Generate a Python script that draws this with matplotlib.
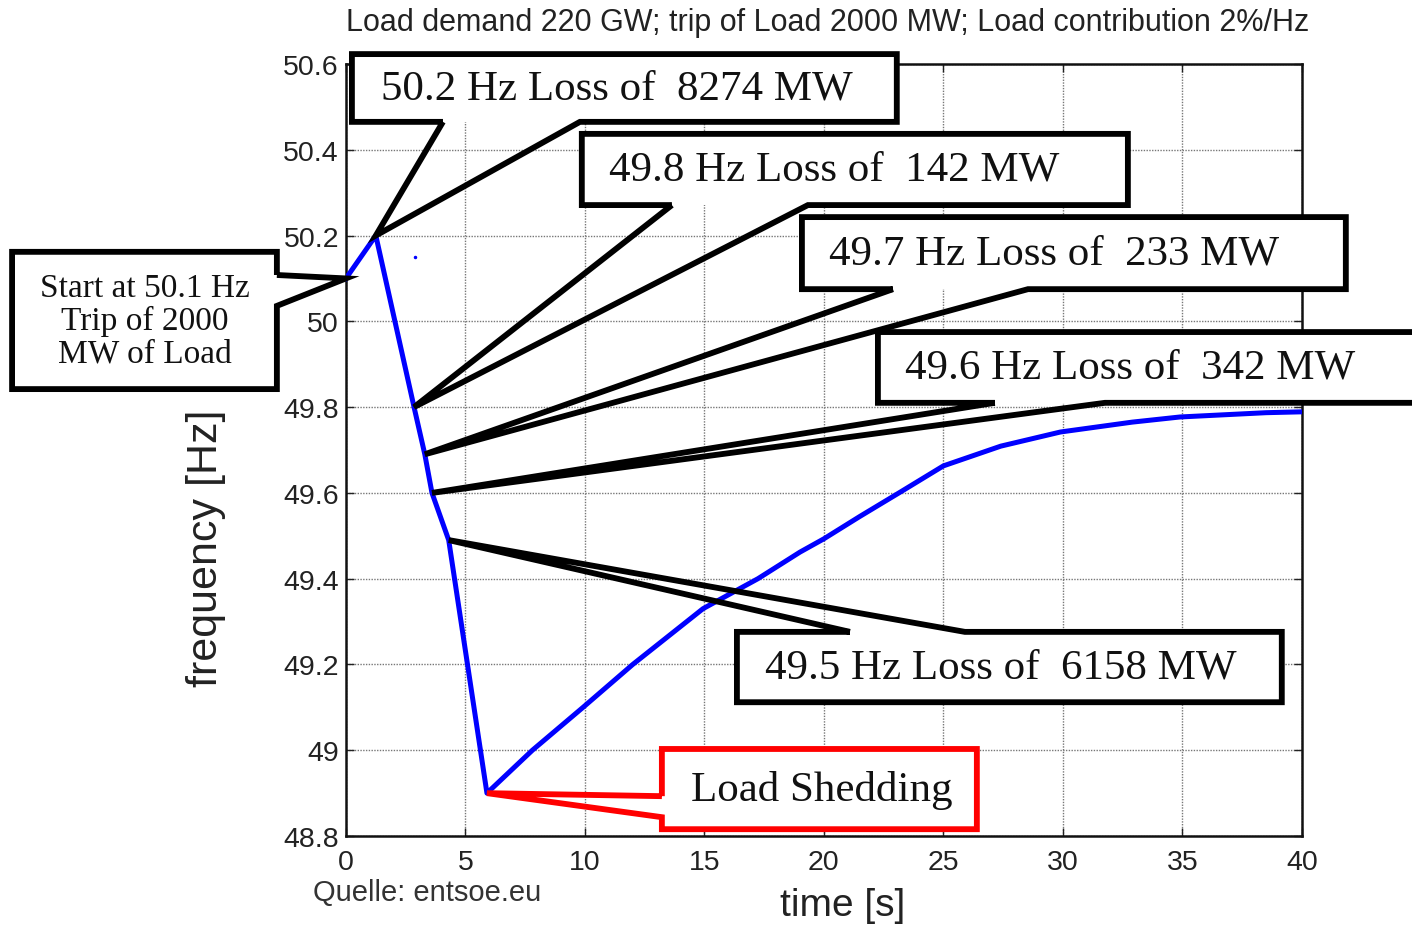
import numpy as np
import matplotlib
matplotlib.use("Agg")
import matplotlib.pyplot as plt
from matplotlib.patches import Rectangle

# frequency response after trip of load
time_s = [0, 1.25, 2.85, 3.3, 3.6, 4.3, 5.9, 7.8, 9.92, 12.0, 14.94, 17.24,
          19.0, 20.0, 21.5, 23.2, 25.0, 27.4, 29.9, 32.9, 34.9, 38.5, 40]
freq_hz = [50.1, 50.2, 49.8, 49.69, 49.6, 49.49, 48.9, 49.0, 49.1, 49.2,
           49.33, 49.4, 49.462, 49.493, 49.545, 49.602, 49.663, 49.709, 49.742,
           49.765, 49.777, 49.787, 49.789]

x_ticks = [0, 5, 10, 15, 20, 25, 30, 35, 40]
y_ticks = [48.8, 49.0, 49.2, 49.4, 49.6, 49.8, 50.0, 50.2, 50.4, 50.6]
y_tick_labels = ["48.8", "49", "49.2", "49.4", "49.6", "49.8", "50", "50.2", "50.4", "50.6"]

callout_texts = ["Start at 50.1 Hz\nTrip of 2000\nMW of Load",
                 "50.2 Hz Loss of  8274 MW",
                 "49.8 Hz Loss of  142 MW",
                 "49.7 Hz Loss of  233 MW",
                 "49.6 Hz Loss of  342 MW",
                 "49.5 Hz Loss of  6158 MW",
                 "Load Shedding"]
# index of the curve point each callout points at
callout_points = [0, 1, 2, 3, 4, 5, 6]

title = "Load demand 220 GW; trip of Load 2000 MW; Load contribution 2%/Hz"
source = "Quelle: entsoe.eu"

fig = plt.figure(figsize=(14.12, 9.28), dpi=100)
ax = fig.add_axes([0.245, 0.098, 0.677, 0.832])

ax.plot(time_s, freq_hz, color="#0000ff", lw=3.6, zorder=6, solid_joinstyle="round")
ax.plot([2.9], [50.15], "o", color="#0000ff", ms=1.5, zorder=6)

ax.set_xlim(0, 40)
ax.set_ylim(48.8, 50.6)
ax.set_xticks(x_ticks)
ax.set_yticks(y_ticks)
ax.set_yticklabels(y_tick_labels)
ax.tick_params(direction="in", top=True, right=True, length=6, width=1,
               labelsize=20.5, colors="#222222")
ax.tick_params(axis="x", pad=9)
ax.tick_params(axis="y", pad=5)
for lab in ax.get_xticklabels() + ax.get_yticklabels():
    lab.set_fontfamily("Liberation Sans")
ax.grid(True, color="#777777", ls=(0, (1, 1)), lw=1)
for s in ax.spines.values():
    s.set_linewidth(1.8)
    s.set_color("#111111")

fig.text(0.597, 0.024, "time [s]", ha="center", va="center", fontsize=28,
         family="Liberation Sans", color="#222222")
fig.text(0.146, 0.409, "frequency [Hz]", ha="center", va="center", fontsize=31,
         family="Liberation Sans", color="#222222", rotation=90)
fig.text(0.586, 0.975, title, ha="center", va="center", fontsize=22,
         family="Liberation Sans", color="#222222")
fig.text(0.222, 0.038, source, ha="left", va="center", fontsize=21,
         family="Liberation Sans", color="#333333")


def callout(box, side, base, tip, color="black", lw=4.2):
    x0, y0, x1, y1 = box  # left, bottom, right, top in data units
    a, b = base
    tx, ty = tip
    if side == "bottom":
        path = [(a, y0), (x0, y0), (x0, y1), (x1, y1), (x1, y0), (b, y0), (tx, ty), (a, y0)]
    elif side == "top":
        path = [(a, y1), (x0, y1), (x0, y0), (x1, y0), (x1, y1), (b, y1), (tx, ty), (a, y1)]
    elif side == "left":
        path = [(x0, a), (x0, y1), (x1, y1), (x1, y0), (x0, y0), (x0, b), (tx, ty), (x0, a)]
    else:
        path = [(x1, a), (x1, y1), (x0, y1), (x0, y0), (x1, y0), (x1, b), (tx, ty), (x1, a)]
    ax.add_patch(Rectangle((x0, y0), x1 - x0, y1 - y0, facecolor="white",
                           edgecolor="none", zorder=7, clip_on=False))
    px, py = zip(*path)
    ax.plot(px, py, color=color, lw=lw, zorder=8, clip_on=False,
            solid_joinstyle="miter", solid_capstyle="butt")


boxes = [
    ((-13.97, 49.842, -2.89, 50.162), "right", (50.108, 50.036)),
    ((0.25, 50.465, 23.05, 50.623), "bottom", (4.06, 9.79)),
    ((9.87, 50.271, 32.72, 50.437), "bottom", (13.64, 19.33)),
    ((19.08, 50.075, 41.84, 50.243), "bottom", (22.89, 28.54)),
    ((22.26, 49.81, 46.0, 49.975), "bottom", (27.15, 31.76)),
    ((16.36, 49.112, 39.16, 49.276), "top", (21.09, 25.9)),
    ((13.22, 48.816, 26.4, 49.003), "left", (48.893, 48.844)),
]
font_sizes = [24, 31, 31, 31, 31, 31, 31]
# text left edge (data x) for the single-line boxes; None = centred
text_left = [None, 1.45, 11.0, 20.2, 23.4, 17.55, 14.45]
for i, (box, side, base) in enumerate(boxes):
    k = callout_points[i]
    col = "#ff0000" if i == 6 else "black"
    callout(box, side, base, (time_s[k], freq_hz[k]), color=col)
    yc = (box[1] + box[3]) / 2
    if text_left[i] is None:
        ax.text((box[0] + box[2]) / 2, yc, callout_texts[i], ha="center", va="center",
                fontsize=font_sizes[i], family="Liberation Serif", color="#111111",
                zorder=9, linespacing=1.1)
    else:
        ax.text(text_left[i], yc, callout_texts[i], ha="left", va="center",
                fontsize=font_sizes[i], family="Liberation Serif", color="#111111",
                zorder=9)

fig.savefig("out.png", dpi=100)
